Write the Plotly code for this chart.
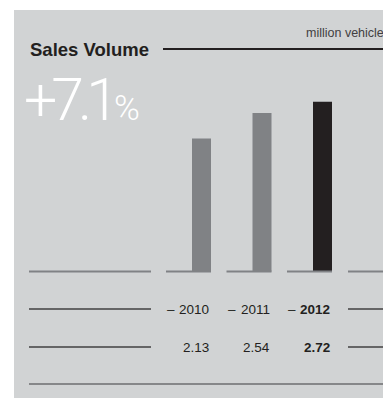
import plotly.graph_objects as go

# Data
years = ["2010", "2011", "2012"]
volumes = [2.13, 2.54, 2.72]
value_labels = ["2.13", "2.54", "2.72"]
bar_colors = ["#808285", "#808285", "#231f20"]
title = "Sales Volume"
unit = "million vehicles"
growth = "+7.1"

W, H = 383, 398
BG = "#d1d3d4"
DARK = "#231f20"
LINE = "#414042"
GREY = "#808285"

# pixel helpers for decorative layout (paper coordinates)
def px(x):
    return x / W

def py(y):
    return 1 - y / H

# category spacing and bar geometry in axis units
step_px = 60.5
bar_w = 19 / step_px
half = bar_w / 2
x_range = [-201.5 / step_px, (W - 201.5) / step_px]
unit_px = 62.4
base_px = 271.5
y_range = [-(H - base_px) / unit_px, base_px / unit_px]

fig = go.Figure()
fig.add_trace(go.Bar(
    x=list(range(len(years))),
    y=volumes,
    width=bar_w,
    marker=dict(color=bar_colors, line=dict(width=0)),
    hoverinfo="skip",
))

shapes = []
# grey panel
shapes.append(dict(type="rect", xref="paper", yref="paper", x0=px(14), x1=px(W + 2),
                   y0=py(H + 2), y1=py(10), fillcolor=BG, line=dict(width=0), layer="below"))
# title rule
shapes.append(dict(type="line", xref="paper", yref="paper", x0=px(163), x1=px(W + 2),
                   y0=py(49), y1=py(49), line=dict(color=DARK, width=1.8)))
# baseline segments
shapes.append(dict(type="line", xref="paper", yref="y", x0=px(29), x1=px(151),
                   y0=0, y1=0, line=dict(color=GREY, width=2)))
shapes.append(dict(type="line", xref="paper", yref="y", x0=px(348), x1=px(W + 2),
                   y0=0, y1=0, line=dict(color=GREY, width=2)))
seg = 45 / step_px
for i in range(len(years)):
    shapes.append(dict(type="line", xref="x", yref="y", x0=i + half - seg, x1=i + half,
                       y0=0, y1=0, line=dict(color=GREY, width=2)))
# table rules
for yy in (309, 347):
    shapes.append(dict(type="line", xref="paper", yref="paper", x0=px(29), x1=px(151),
                       y0=py(yy), y1=py(yy), line=dict(color=LINE, width=1.3)))
    shapes.append(dict(type="line", xref="paper", yref="paper", x0=px(348), x1=px(W + 2),
                       y0=py(yy), y1=py(yy), line=dict(color=LINE, width=1.3)))
shapes.append(dict(type="line", xref="paper", yref="paper", x0=px(29), x1=px(W + 2),
                   y0=py(384), y1=py(384), line=dict(color="#6d6e71", width=1.5)))

ann = []
ann.append(dict(text=title, xref="paper", yref="paper", x=px(28), y=py(49),
                xanchor="left", yanchor="middle", showarrow=False,
                font=dict(family="Liberation Sans", size=18.5, color=DARK, weight=600)))
ann.append(dict(text=unit, xref="paper", yref="paper", x=px(304), y=py(33),
                xanchor="left", yanchor="middle", showarrow=False,
                font=dict(family="Liberation Sans", size=12.5, color=LINE)))
ann.append(dict(text='<span style="letter-spacing:-6px">' + growth[:-1] + '</span>'
                     '<span style="letter-spacing:-5px">' + growth[-1:] + '</span>'
                     '<span style="font-size:35px">%</span>',
                xref="paper", yref="paper",
                x=px(22), y=py(99), xanchor="left", yanchor="middle", showarrow=False,
                font=dict(family="Roboto", size=59, color="#ffffff", weight=300)))
for i, (yr, val) in enumerate(zip(years, value_labels)):
    bold = 700 if i == len(years) - 1 else 400
    ann.append(dict(text=yr, xref="x", yref="paper", x=i + half, y=py(309),
                    xanchor="right", yanchor="middle", showarrow=False,
                    font=dict(family="Liberation Sans", size=13.5, color=DARK, weight=bold)))
    ann.append(dict(text="–", xref="x", yref="paper", x=i + half - seg, y=py(309),
                    xanchor="left", yanchor="middle", showarrow=False, xshift=-1,
                    font=dict(family="Liberation Sans", size=13.5, color=DARK)))
    ann.append(dict(text=val, xref="x", yref="paper", x=i + half, y=py(347),
                    xanchor="right", yanchor="middle", showarrow=False,
                    font=dict(family="Liberation Sans", size=13.5, color=DARK, weight=bold)))

fig.update_layout(
    width=W, height=H,
    margin=dict(l=0, r=0, t=0, b=0),
    paper_bgcolor="#ffffff", plot_bgcolor="rgba(0,0,0,0)",
    showlegend=False,
    xaxis=dict(range=x_range, visible=False, fixedrange=True),
    yaxis=dict(range=y_range, visible=False, fixedrange=True),
    shapes=shapes, annotations=ann,
)
fig.write_html("out.html", config={"displayModeBar": False})
